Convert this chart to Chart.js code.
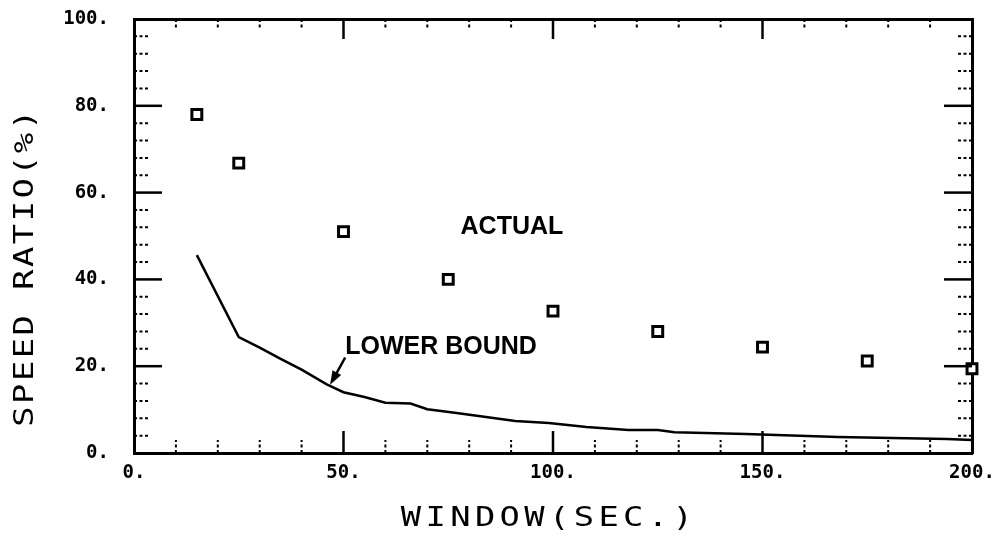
<!DOCTYPE html>
<html>
<head>
<meta charset="utf-8">
<script src="https://cdn.jsdelivr.net/npm/chart.js@4/dist/chart.umd.min.js"></script>
<style>
  body { margin: 0; background: #fff; }
  #wrap { width: 993px; height: 548px; }
</style>
</head>
<body>
<div id="wrap"><canvas id="speed-chart" width="993" height="548"></canvas></div>
<script>
// window length (sec) vs speed ratio (%)
const actualX = [15, 25, 50, 75, 100, 125, 150, 175, 200];
const actualY = [78, 66.8, 51, 40, 32.7, 28, 24.4, 21.2, 19.4];

const lowerX = [15, 25, 30, 35, 40, 46, 50, 55, 60, 66, 70, 77, 84, 91, 99, 108, 118, 125, 129, 146, 168, 194, 200];
const lowerY = [45.6, 26.7, 24.3, 21.7, 19.2, 15.8, 14.0, 12.9, 11.6, 11.4, 10.1, 9.2, 8.3, 7.4, 6.9, 6.0, 5.3, 5.3, 4.8, 4.4, 3.7, 3.2, 3.0];

const xTicks = [0, 50, 100, 150, 200];
const yTicks = [0, 20, 40, 60, 80, 100];
const xMinorStep = 10;
const yMinorStep = 4;

const xTitle = 'WINDOW(SEC.)';
const yTitle = 'SPEED RATIO(%)';

const tickFont = { family: 'DejaVu Sans Mono', size: 19, weight: 'bold' };

const toPoints = (xs, ys) => xs.map((x, i) => ({ x: x, y: ys[i] }));

const setTicks = (values) => (scale) => {
    scale.ticks = values.map(v => ({ value: v }));
};

// wide plotter lettering: stretch the glyphs a bit and space them out
const plotterText = (ctx, text, x, y, rot, spacing) => {
    ctx.save();
    ctx.translate(x, y);
    ctx.rotate(rot);
    ctx.scale(1.25, 1);
    ctx.letterSpacing = spacing + 'px';
    ctx.fillText(text, 0, 0);
    ctx.restore();
};

// inward plotter-style tick marks, titles and notes
const plotterDecor = {
    id: 'plotterDecor',
    afterDraw(chart) {
        const ctx = chart.ctx;
        const area = chart.chartArea;
        const xs = chart.scales.x;
        const ys = chart.scales.y;

        ctx.save();
        ctx.strokeStyle = '#000';
        ctx.lineCap = 'butt';

        const tickLine = (x1, y1, x2, y2, dotted, w) => {
            ctx.lineWidth = w;
            ctx.setLineDash(dotted ? [3, 2.5] : []);
            ctx.beginPath();
            ctx.moveTo(x1, y1);
            ctx.lineTo(x2, y2);
            ctx.stroke();
        };

        for (let v = xMinorStep; v < xs.max; v += xMinorStep) {
            const px = xs.getPixelForValue(v);
            const major = xTicks.includes(v);
            const len = major ? 22 : 13;
            tickLine(px, area.bottom, px, area.bottom - len, !major, major ? 2.5 : 2);
            tickLine(px, area.top, px, area.top + (major ? 20 : 9), !major, major ? 2.5 : 2);
        }
        for (let v = yMinorStep; v < ys.max; v += yMinorStep) {
            const py = ys.getPixelForValue(v);
            const major = yTicks.includes(v);
            const len = major ? 28 : 15;
            tickLine(area.left, py, area.left + len, py, !major, major ? 2.5 : 2);
            tickLine(area.right, py, area.right - len, py, !major, major ? 2.5 : 2);
        }
        ctx.setLineDash([]);

        // axis titles
        ctx.fillStyle = '#000';
        ctx.font = '27px "DejaVu Sans Mono"';
        ctx.textAlign = 'center';
        ctx.textBaseline = 'middle';
        plotterText(ctx, xTitle, 549, 519, 0, 3.5);
        plotterText(ctx, yTitle, 26, 267, -Math.PI / 2, 2);

        // notes
        ctx.font = 'bold 25px "Liberation Sans"';
        ctx.textAlign = 'center';
        ctx.fillText('ACTUAL', xs.getPixelForValue(90.2), ys.getPixelForValue(52.1));
        ctx.textAlign = 'left';
        ctx.fillText('LOWER BOUND', xs.getPixelForValue(50.4), ys.getPixelForValue(24.4));

        // arrow to the lower bound curve
        const tx = xs.getPixelForValue(46.8), ty = ys.getPixelForValue(15.7);
        const sx = xs.getPixelForValue(50.4), sy = ys.getPixelForValue(22.0);
        const ang = Math.atan2(ty - sy, tx - sx);
        ctx.lineWidth = 2.5;
        ctx.beginPath();
        ctx.moveTo(sx, sy);
        ctx.lineTo(tx - Math.cos(ang) * 8, ty - Math.sin(ang) * 8);
        ctx.stroke();
        ctx.beginPath();
        ctx.moveTo(tx, ty);
        ctx.lineTo(tx - Math.cos(ang) * 14 + Math.sin(ang) * 5, ty - Math.sin(ang) * 14 - Math.cos(ang) * 5);
        ctx.lineTo(tx - Math.cos(ang) * 14 - Math.sin(ang) * 5, ty - Math.sin(ang) * 14 + Math.cos(ang) * 5);
        ctx.closePath();
        ctx.fill();
        ctx.restore();
    }
};

const ctx = document.getElementById('speed-chart').getContext('2d');
const myChart = new Chart(ctx, {
    type: 'scatter',
    data: {
        datasets: [{
            label: 'LOWER BOUND',
            type: 'line',
            data: toPoints(lowerX, lowerY),
            borderColor: '#000',
            borderWidth: 2.5,
            pointRadius: 0,
            tension: 0,
            fill: false
        }, {
            label: 'ACTUAL',
            data: toPoints(actualX, actualY),
            pointStyle: 'rect',
            pointRadius: 7,
            pointBorderWidth: 3,
            borderColor: '#000',
            backgroundColor: '#fff',
            clip: false
        }]
    },
    options: {
        responsive: false,
        animation: false,
        layout: { padding: 0 },
        plugins: {
            legend: { display: false },
            tooltip: { enabled: false }
        },
        scales: {
            x: {
                type: 'linear',
                position: 'bottom',
                min: 0,
                max: 200,
                afterBuildTicks: setTicks(xTicks),
                afterFit: (scale) => { scale.height = 95; scale.paddingLeft = 0; scale.paddingRight = 0; },
                ticks: {
                    callback: (v) => v + '.',
                    font: tickFont,
                    color: '#000',
                    padding: 9,
                    maxRotation: 0,
                    autoSkip: false
                },
                grid: { display: false, drawTicks: false },
                border: { display: true, color: '#000', width: 3 }
            },
            x2: {
                type: 'linear',
                position: 'top',
                min: 0,
                max: 200,
                afterFit: (scale) => { scale.height = 19; scale.paddingLeft = 0; scale.paddingRight = 0; },
                ticks: { display: false },
                grid: { display: false, drawTicks: false },
                border: { display: true, color: '#000', width: 3 }
            },
            y: {
                type: 'linear',
                position: 'left',
                min: 0,
                max: 100,
                afterBuildTicks: setTicks(yTicks),
                afterFit: (scale) => { scale.width = 134; scale.paddingTop = 0; scale.paddingBottom = 0; },
                ticks: {
                    callback: (v) => v + '.',
                    font: tickFont,
                    color: '#000',
                    padding: 25,
                    autoSkip: false
                },
                grid: { display: false, drawTicks: false },
                border: { display: true, color: '#000', width: 3 }
            },
            y2: {
                type: 'linear',
                position: 'right',
                min: 0,
                max: 100,
                afterFit: (scale) => { scale.width = 21; scale.paddingTop = 0; scale.paddingBottom = 0; },
                ticks: { display: false },
                grid: { display: false, drawTicks: false },
                border: { display: true, color: '#000', width: 3 }
            }
        }
    },
    plugins: [plotterDecor]
});
</script>
</body>
</html>
